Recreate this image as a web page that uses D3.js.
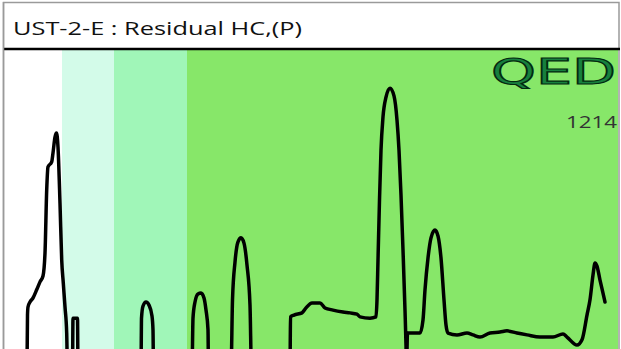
<!DOCTYPE html>
<html>
<head>
<meta charset="utf-8">
<script src="https://cdn.jsdelivr.net/npm/d3@7"></script>
<style>
    body { margin: 0; background: #ffffff; }
    svg { display: block; }
</style>
</head>
<body>
<div id="chromatogram"></div>
<script>
// ... chart data (retention time in minutes, detector signal in %)

const title = 'UST-2-E : Residual HC,(P)';
const logoText = 'QED';
const sampleId = '1214';

const bandStarts = [0, 2.85, 5.45, 9.1];
const bandEnds = [2.85, 5.45, 9.1, 30.65];
const bandColors = ['#ffffff', '#d3fbe9', '#a0f6b8', '#87e769'];

const retentionTime = [
    1.10, 1.125, 1.15, 1.25, 1.40, 1.60, 1.75, 1.90, 2.00, 2.085, 2.15, 2.335, 2.40, 2.50, 2.575,
    2.65, 2.75, 2.835, 2.915, 3.00, 3.085, 3.125, 3.375, 3.40, 3.625, 3.65,
    6.80, 6.825, 6.90, 7.05, 7.20, 7.35, 7.40, 7.425,
    9.35, 9.40, 9.50, 9.65, 9.80, 9.95, 10.05, 10.15, 10.175,
    11.30, 11.375, 11.50, 11.65, 11.80, 11.95, 12.10, 12.25, 12.325,
    14.25, 14.275, 14.45, 14.85, 15.05, 15.35, 15.75, 16.00, 16.40, 16.90, 17.25, 17.60, 17.75,
    18.25, 18.55, 18.60, 18.65, 18.725, 18.80, 18.90, 19.05, 19.25, 19.45, 19.60, 19.70, 19.80,
    19.90, 20.00, 20.05, 20.075, 20.125, 20.75,
    20.90, 21.00, 21.15, 21.30, 21.50, 21.65, 21.80, 21.95, 22.05, 22.15,
    22.60, 23.10, 23.40, 23.75, 24.25, 24.75, 25.10, 25.60, 26.10, 26.75, 27.40, 27.90, 28.10,
    28.60, 28.85, 29.10, 29.25, 29.40, 29.50, 29.60, 29.75, 29.90, 30.00
];

const signal = [
    -3, 14.5, 17.1, 18.7, 20.0, 22.9, 25.2, 27.1, 34.5, 54.8, 62.3, 63.9, 66.8, 71.9, 73.2,
    68.7, 50.6, 32.3, 24.8, 17.1, 8.7, -3, -3, 13.5, 13.5, -3,
    -3, 13.5, 17.4, 18.7, 17.7, 14.2, 9.7, -3,
    -3, 13.5, 18.7, 21.3, 21.6, 20.0, 16.1, 9.7, -3,
    -3, 19.4, 31.6, 38.1, 39.4, 37.7, 30.6, 17.7, -3,
    -3, 13.9, 14.5, 15.2, 16.8, 18.4, 18.4, 16.8, 16.1, 15.5, 15.2, 14.8, 13.9,
    13.5, 13.9, 19.4, 32.3, 51.6, 67.7, 78.4, 84.8, 87.7, 85.2, 77.4, 67.7, 53.2,
    35.5, 16.1, 4.8, -3, 8.7, 8.7,
    12.9, 22.6, 32.9, 39.4, 41.9, 40.0, 32.9, 19.4, 11.3, 8.7,
    8.1, 8.7, 8.1, 7.4, 8.7, 9.0, 9.4, 8.7, 8.1, 7.4, 7.4, 8.4, 7.4,
    4.8, 6.5, 14.5, 19.4, 27.4, 31.3, 30.3, 25.8, 21.6, 18.7
];

// ... static chart area

const width = 621;
const height = 349;
const plot = { left: 5, right: 618, top: 50, bottom: 360 };

const points = retentionTime.map(function (t, i) {
    return { time: t, value: signal[i] };
});

const bands = bandStarts.map(function (s, i) {
    return { start: s, end: bandEnds[i], index: i };
});

const x = d3.scaleLinear()
    .domain([0, 30.65])
    .range([plot.left, plot.right]);

const y = d3.scaleLinear()
    .domain([0, 100])
    .range([plot.bottom, plot.top]);

const bandColor = d3.scaleOrdinal()
    .domain(d3.range(bandColors.length))
    .range(bandColors);

const svg = d3.select('#chromatogram').append('svg')
    .attr('width', width)
    .attr('height', height);

svg.append('defs')
    .append('clipPath')
    .attr('id', 'clip')
    .append('rect')
    .attr('x', plot.left)
    .attr('y', plot.top)
    .attr('width', plot.right - plot.left)
    .attr('height', plot.bottom - plot.top);

// ... title box

svg.append('rect')
    .attr('x', 3.5)
    .attr('y', 2.5)
    .attr('width', 615.5)
    .attr('height', 400)
    .attr('fill', '#ffffff')
    .attr('stroke', '#9a9a9a')
    .attr('stroke-width', 1.5);

svg.append('text')
    .attr('x', 13)
    .attr('y', 35)
    .attr('font-family', 'Open Sans, sans-serif')
    .attr('font-size', 19)
    .attr('fill', '#111111')
    .attr('textLength', 289)
    .attr('lengthAdjust', 'spacingAndGlyphs')
    .text(title);

// ... coloured regions

const body = svg.append('g')
    .attr('clip-path', 'url(#clip)');

body.selectAll('rect.band')
    .data(bands)
    .enter()
    .append('rect')
    .attr('class', 'band')
    .attr('x', function (d) { return x(d.start); })
    .attr('y', plot.top)
    .attr('width', function (d) { return x(d.end) - x(d.start); })
    .attr('height', plot.bottom - plot.top)
    .attr('fill', function (d) { return bandColor(d.index); });

// ... logo and sample number

body.append('text')
    .attr('x', 616)
    .attr('y', 83.5)
    .attr('text-anchor', 'end')
    .attr('font-family', 'DejaVu Sans, sans-serif')
    .attr('font-size', 36)
    .attr('fill', '#17803d')
    .attr('stroke', '#032a10')
    .attr('stroke-width', 1.2)
    .attr('textLength', 125)
    .attr('lengthAdjust', 'spacingAndGlyphs')
    .text(logoText);

body.append('text')
    .attr('x', 617)
    .attr('y', 127.5)
    .attr('text-anchor', 'end')
    .attr('font-family', 'Open Sans, sans-serif')
    .attr('font-size', 17)
    .attr('fill', '#333333')
    .attr('textLength', 51)
    .attr('lengthAdjust', 'spacingAndGlyphs')
    .text(sampleId);

// ... signal trace

const trace = d3.line()
    .x(function (d) { return x(d.time); })
    .y(function (d) { return y(d.value); })
    .curve(d3.curveMonotoneX);

body.append('path')
    .datum(points)
    .attr('fill', 'none')
    .attr('stroke', '#000000')
    .attr('stroke-width', 3.5)
    .attr('stroke-linejoin', 'round')
    .attr('stroke-linecap', 'round')
    .attr('d', trace);

// ... divider between title and plot

svg.append('line')
    .attr('x1', 3)
    .attr('x2', 620)
    .attr('y1', 49)
    .attr('y2', 49)
    .attr('stroke', '#000000')
    .attr('stroke-width', 2.5);

svg.append('line')
    .attr('x1', 3.5)
    .attr('x2', 3.5)
    .attr('y1', 2)
    .attr('y2', height)
    .attr('stroke', '#9a9a9a')
    .attr('stroke-width', 1.5);
</script>
</body>
</html>
